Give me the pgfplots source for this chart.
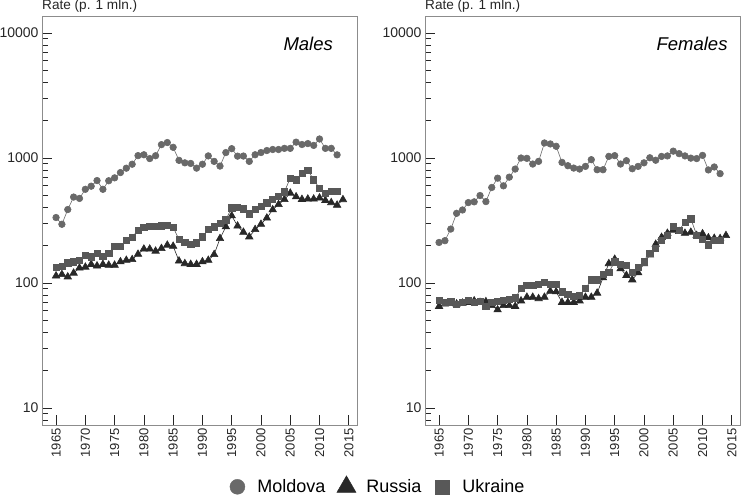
\documentclass[border=0pt]{standalone}
\usepackage{fontspec}
\setmainfont{Liberation Sans}
\usepackage{pgfplots}
\pgfplotsset{compat=1.18}
\usepackage{pgfplotstable}

\definecolor{moldova}{RGB}{105,105,105}
\definecolor{russia}{RGB}{40,40,40}
\definecolor{ukraine}{RGB}{88,88,88}
\definecolor{frame}{RGB}{140,140,140}

% males
\pgfplotstableread{
year v
1965 334
1966 295
1967 387
1968 487
1969 475
1970 562
1971 595
1972 660
1973 562
1974 658
1975 694
1976 765
1977 829
1978 892
1979 1045
1980 1062
1981 990
1982 1043
1983 1280
1984 1330
1985 1218
1986 958
1987 915
1988 905
1989 830
1990 892
1991 1040
1992 940
1993 862
1994 1106
1995 1188
1996 1035
1997 1037
1998 940
1999 1062
2000 1106
2001 1148
2002 1170
2003 1170
2004 1195
2005 1195
2006 1340
2007 1283
2008 1305
2009 1262
2010 1420
2011 1195
2012 1195
2013 1060
}\maleMD

\pgfplotstableread{
year v
1965 114
1966 117
1967 112
1968 120
1969 132
1970 134
1971 141
1972 137
1973 141
1974 139
1975 139
1976 148
1977 152
1978 154
1979 170
1980 187
1981 187
1982 180
1983 189
1984 201
1985 197
1986 150
1987 143
1988 141
1989 141
1990 148
1991 152
1992 169
1993 227
1994 282
1995 345
1996 286
1997 255
1998 234
1999 268
2000 295
2001 331
2002 386
2003 425
2004 466
2005 524
2006 490
2007 467
2008 470
2009 470
2010 480
2011 458
2012 440
2013 420
2014 465
}\maleRU

\pgfplotstableread{
year v
1965 134
1966 136
1967 145
1968 148
1969 152
1970 167
1971 162
1972 172
1973 164
1974 174
1975 197
1976 197
1977 218
1978 232
1979 265
1980 278
1981 284
1982 284
1983 287
1984 288
1985 280
1986 222
1987 211
1988 203
1989 210
1990 234
1991 267
1992 282
1993 302
1994 320
1995 400
1996 406
1997 392
1998 358
1999 386
2000 412
2001 438
2002 465
2003 497
2004 537
2005 690
2006 670
2007 760
2008 800
2009 670
2010 572
2011 520
2012 542
2013 545
}\maleUA

% females
\pgfplotstableread{
year v
1965 211
1966 218
1967 270
1968 361
1969 384
1970 440
1971 446
1972 501
1973 448
1974 581
1975 690
1976 599
1977 703
1978 816
1979 1000
1980 994
1981 895
1982 940
1983 1320
1984 1296
1985 1241
1986 923
1987 868
1988 831
1989 816
1990 857
1991 970
1992 806
1993 806
1994 1031
1995 1045
1996 895
1997 952
1998 821
1999 857
2000 915
2001 1005
2002 960
2003 1030
2004 1040
2005 1135
2006 1084
2007 1040
2008 998
2009 990
2010 1050
2011 803
2012 848
2013 750
}\femMD

\pgfplotstableread{
year v
1965 65
1966 68
1967 69
1968 68
1969 69
1970 70
1971 72
1972 70
1973 71
1974 66
1975 61
1976 66
1977 66
1978 65
1979 72
1980 77
1981 77
1982 75
1983 77
1984 86
1985 85
1986 70
1987 70
1988 70
1989 72
1990 77
1991 77
1992 83
1993 110
1994 143
1995 155
1996 130
1997 115
1998 106
1999 121
2000 143
2001 168
2002 204
2003 232
2004 250
2005 265
2006 258
2007 250
2008 255
2009 240
2010 248
2011 230
2012 228
2013 227
2014 240
}\femRU

\pgfplotstableread{
year v
1965 73
1966 70
1967 71
1968 68
1969 70
1970 73
1971 70
1972 71
1973 65
1974 70
1975 71
1976 73
1977 74
1978 76
1979 90
1980 96
1981 96
1982 97
1983 101
1984 98
1985 98
1986 85
1987 81
1988 78
1989 80
1990 90
1991 106
1992 106
1993 117
1994 122
1995 148
1996 141
1997 139
1998 122
1999 134
2000 148
2001 172
2002 189
2003 220
2004 242
2005 284
2006 264
2007 308
2008 326
2009 242
2010 225
2011 202
2012 221
2013 219
}\femUA

\pgfplotsset{
  mypanel/.style={
    scale only axis, width=315pt, height=409pt,
    xmin=1962.6, xmax=2016.4,
    ymin=7.3, ymax=13700,
    xtick={1965,1970,...,2015},
    ytick={10,100,1000,10000}, yticklabels={10,100,1000,10000},
    minor ytick={8,9,20,30,40,50,60,70,80,90,200,300,400,500,600,700,800,900,2000,3000,4000,5000,6000,7000,8000,9000},
    tick pos=left, tick align=inside,
    major tick length=10pt, minor tick length=6pt,
    tick style={color=black!85, line width=0.7pt},
    axis line style={frame, line width=0.8pt},
    x tick label style={rotate=90, anchor=east, font=\fontsize{13}{15}\selectfont, text=black!85},
    y tick label style={font=\fontsize{14}{16}\selectfont, text=black!85},
    /pgf/number format/assume math mode=true,
    /pgf/number format/set thousands separator={},
    ylabel={Rate (p. 1 mln.)},
    ylabel style={rotate=-90, at={(rel axis cs:0,1)}, anchor=south west,
      inner sep=0pt, yshift=3pt, font=\fontsize{13.6}{15}\selectfont, text=black!85},
  },
  serMD/.style={moldova, line width=0.6pt, mark=*, mark size=3.3pt, mark options={fill=moldova, draw=moldova}},
  serRU/.style={russia, line width=0.6pt, mark=triangle*, mark size=4.3pt, mark options={fill=russia, draw=russia}},
  serUA/.style={ukraine, line width=0.6pt, mark=square*, mark size=3.1pt, mark options={fill=ukraine, draw=ukraine}},
}

\begin{document}
\begin{tikzpicture}
\useasboundingbox (0,0) rectangle (742pt,-497pt);

\begin{axis}[mypanel, ymode=log, at={(42pt,-16pt)}, anchor=north west,
  legend style={at={(1.057,-0.149)}, anchor=center, draw=none, fill=none,
    inner sep=0pt, font=\fontsize{18}{20}\selectfont,
    /tikz/every odd column/.append style={column sep=4pt},
    /tikz/every even column/.append style={column sep=5pt}},
  legend columns=3,
  legend image code/.code={\path[draw=none, fill=none] (-14pt,-8pt) rectangle (14pt,8pt); \draw[#1] plot coordinates {(0pt,0pt)};},
]
\addlegendimage{only marks, mark=*, mark size=7.5pt, draw=moldova, fill=moldova, mark options={fill=moldova, draw=moldova}}
\addlegendentry{Moldova}
\addlegendimage{only marks, mark=triangle*, mark size=11pt, draw=russia, fill=russia, mark options={fill=russia, draw=russia}}
\addlegendentry{Russia}
\addlegendimage{only marks, mark=square*, mark size=7pt, draw=ukraine, fill=ukraine, mark options={fill=ukraine, draw=ukraine}}
\addlegendentry{Ukraine}
\addplot[serMD, forget plot] table[x=year, y=v] {\maleMD};
\addplot[serRU, forget plot] table[x=year, y=v] {\maleRU};
\addplot[serUA, forget plot] table[x=year, y=v] {\maleUA};
\node[anchor=north east, inner sep=0pt, font=\fontsize{18.5}{22}\selectfont\itshape] at (rel axis cs:0.924,0.95) {Males};
\end{axis}

\begin{axis}[mypanel, ymode=log, at={(425pt,-16pt)}, anchor=north west]
\addplot[serMD] table[x=year, y=v] {\femMD};
\addplot[serRU] table[x=year, y=v] {\femRU};
\addplot[serUA] table[x=year, y=v] {\femUA};
\node[anchor=north east, inner sep=0pt, font=\fontsize{18.5}{22}\selectfont\itshape] at (rel axis cs:0.961,0.95) {Females};
\end{axis}
\end{tikzpicture}
\end{document}
